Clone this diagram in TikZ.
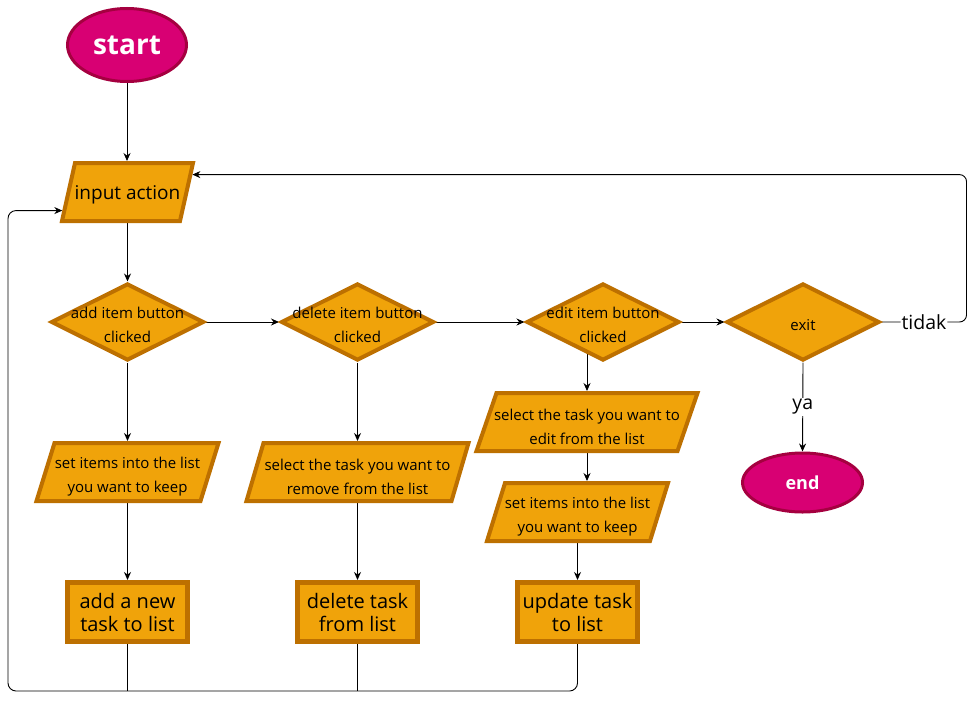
\documentclass[tikz,border=0pt]{standalone}
\usepackage{fontspec}
\setmainfont{Open Sans}
\usetikzlibrary{shapes.geometric,arrows.meta,calc}

\definecolor{boxfill}{HTML}{F0A30A}
\definecolor{boxline}{HTML}{BD7000}
\definecolor{termfill}{HTML}{D80073}
\definecolor{termline}{HTML}{A50040}

\pgfdeclarelayer{wires}
\pgfdeclarelayer{shapes}
\pgfsetlayers{wires,shapes,main}

\tikzset{
  terminal/.style={ellipse, fill=termfill, draw=termline, line width=3pt,
    text=white, font=\bfseries},
  decision/.style={diamond, fill=boxfill, draw=boxline, line width=4pt,
    minimum width=153, minimum height=77, inner sep=0pt},
  iobox/.style={rectangle, minimum height=58, inner sep=0pt, outer sep=0pt},
  paraline/.style={fill=boxfill, draw=boxline, line width=4pt},
  process/.style={rectangle, fill=boxfill, draw=boxline, line width=5pt,
    minimum width=120, minimum height=59, inner sep=0pt, align=center,
    font=\fontsize{20}{23}\selectfont},
  txt/.style={align=center, inner sep=0pt, yshift=-3pt,
    font=\fontsize{15}{24}\selectfont},
  iotxt/.style={txt, yshift=-2pt},
  flow/.style={-{Stealth[length=8pt,width=7pt]}, line width=0.9pt},
  edge label/.style={fill=white, inner sep=1pt, font=\fontsize{19.5}{22}\selectfont}
}

% parallelogram outline behind an io node: #1 node name, #2 slant
\newcommand\drawslanted[2]{%
  \begin{pgfonlayer}{shapes}
    \path[paraline] ([xshift=#2]#1.north west) -- (#1.north east)
      -- ([xshift=-#2]#1.south east) -- (#1.south west) -- cycle;
  \end{pgfonlayer}}

\begin{document}
\begin{tikzpicture}[x=1pt, y=-1pt]
  \useasboundingbox (0,0) rectangle (976,701);

  % terminals
  \node[terminal, minimum width=119, minimum height=73,
        font=\bfseries\fontsize{28}{30}\selectfont] (start) at (127,45) {start};
  \node[terminal, minimum width=120, minimum height=59,
        font=\bfseries\fontsize{18}{20}\selectfont] (end) at (802.5,482.5) {end};

  % input
  \node[iobox, minimum width=131,
        label={[txt, font=\fontsize{19}{22}\selectfont]center:input action}]
        (in) at (127.5,192) {};
  \drawslanted{in}{13pt}

  % decisions
  \node[decision, label={[txt]center:add item button\\clicked}] (d1) at (127.5,322) {};
  \node[decision, label={[txt]center:delete item button\\clicked}] (d2) at (357.5,322) {};
  \node[decision, label={[txt]center:edit item button\\clicked}] (d3) at (603,322) {};
  \node[decision, label={[txt]center:exit}] (d4) at (803,322) {};

  % input/output steps
  \node[iobox, minimum width=182,
        label={[iotxt]center:set items into the list\\you want to keep}] (p1) at (127.5,472) {};
  \drawslanted{p1}{18pt}
  \node[iobox, minimum width=222,
        label={[iotxt]center:select the task you want to\\remove from the list}] (p2) at (357.5,472) {};
  \drawslanted{p2}{17pt}
  \node[iobox, minimum width=221,
        label={[iotxt]center:select the task you want to\\edit from the list}] (p3) at (587,422) {};
  \drawslanted{p3}{20pt}
  \node[iobox, minimum width=181,
        label={[iotxt]center:set items into the list\\you want to keep}] (p4) at (577.5,512) {};
  \drawslanted{p4}{18pt}

  % processes
  \node[process] (r1) at (127.5,612) {add a new\\task to list};
  \node[process] (r2) at (357.5,612) {delete task\\from list};
  \node[process] (r3) at (577.5,612) {update task\\to list};

  % connectors, kept behind the shapes
  \begin{pgfonlayer}{wires}
    \fill[white] (0,0) rectangle (976,701);

    \draw[flow, shorten >=2pt] (start.south) -- (start.south |- in.north);
    \draw[flow] (d1.north |- in.south) -- (d1.north);

    \draw[flow] (d1.east) -- (d2.west);
    \draw[flow] (d2.east) -- (d3.west);
    \draw[flow] (d3.east) -- (d4.west);

    \draw[flow, shorten >=2pt] (d1.south) -- (p1.north);
    \draw[flow, shorten >=2pt] (d2.south) -- (p2.north);
    \draw[flow, shorten >=2pt] (p3.north |- d3.center) -- (p3.north);
    \draw[flow, shorten >=2pt] (p3.south) -- (p3.south |- p4.north);

    \draw[flow] (p1.south) -- (r1.north);
    \draw[flow] (p2.south) -- (r2.north);
    \draw[flow] (p4.south) -- (r3.north);

    % exit decision
    \draw[flow] (d4.south) -- node[edge label] {ya} (end.north);
    \coordinate (inR) at ($(in.north east)!0.2!([xshift=-13pt]in.south east)$);
    \draw[flow, shorten >=2pt, rounded corners=7] (d4.east)
      -- node[edge label] {tidak} ++(85,0) |- (inR);

    % return path back to the input
    \coordinate (inL) at ($([xshift=13pt]in.north west)!0.82!(in.south west)$);
    \draw[line width=0.9pt] (r1.south) -- ++(0,47);
    \draw[line width=0.9pt] (r2.south) -- ++(0,47);
    \draw[flow, shorten >=2pt, rounded corners=8] (r3.south) |- (8,691) |- (inL);
  \end{pgfonlayer}
\end{tikzpicture}
\end{document}
